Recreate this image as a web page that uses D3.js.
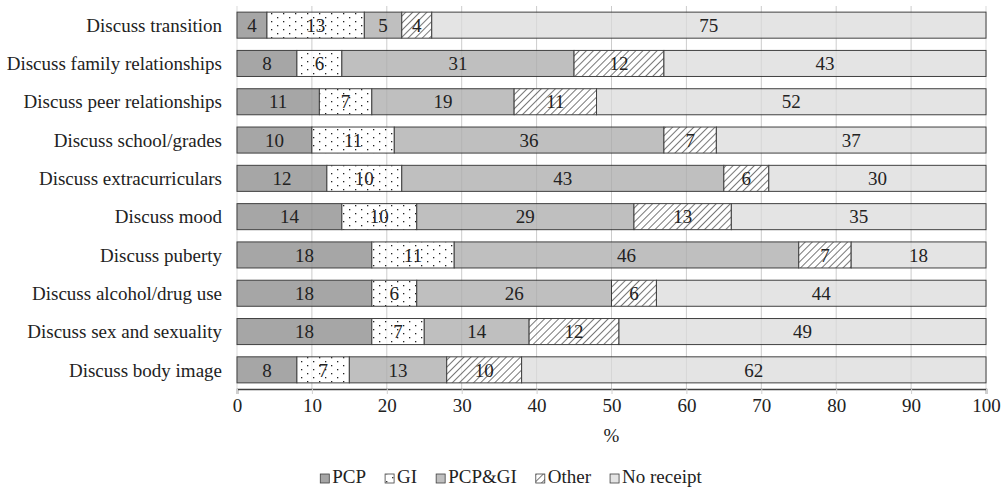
<!DOCTYPE html>
<html><head><meta charset="utf-8">
<script src="https://d3js.org/d3.v7.min.js"></script>
<style>body{margin:0;background:#fff;} svg{display:block;}</style>
</head><body>
<script>
const categories = ["Discuss transition","Discuss family relationships","Discuss peer relationships","Discuss school/grades","Discuss extracurriculars","Discuss mood","Discuss puberty","Discuss alcohol/drug use","Discuss sex and sexuality","Discuss body image"];
const seriesNames = ["PCP","GI","PCP&GI","Other","No receipt"];
const PCP = [4,8,11,10,12,14,18,18,18,8];
const GI = [13,6,7,11,10,10,11,6,7,7];
const PCPGI = [5,31,19,36,43,29,46,26,14,13];
const Other = [4,12,11,7,6,13,7,6,12,10];
const NoReceipt = [75,43,52,37,30,35,18,44,49,62];
const xTicks = [0,10,20,30,40,50,60,70,80,90,100];

const W=1001,H=487;
const m={left:237,right:15,top:6,bottom:98};
const FS=19;
const svg=d3.select("body").append("svg").attr("width",W).attr("height",H);
const defs=svg.append("defs");
// dots pattern
const pd=defs.append("pattern").attr("id","dots").attr("patternUnits","userSpaceOnUse").attr("width",12).attr("height",8);
pd.append("rect").attr("width",12).attr("height",8).attr("fill","#fff");
pd.append("rect").attr("x",1).attr("y",1).attr("width",1.3).attr("height",1.3).attr("fill","#222");
pd.append("rect").attr("x",7).attr("y",5).attr("width",1.3).attr("height",1.3).attr("fill","#222");
// hatch pattern
const ph=defs.append("pattern").attr("id","hatch").attr("patternUnits","userSpaceOnUse").attr("width",5).attr("height",5).attr("patternTransform","rotate(45)");
ph.append("rect").attr("width",5).attr("height",5).attr("fill","#fff");
ph.append("line").attr("x1",0).attr("y1",0).attr("x2",0).attr("y2",5).attr("stroke","#555").attr("stroke-width",1.6);
const fills=["#a6a6a6","url(#dots)","#bfbfbf","url(#hatch)","#e4e4e4"];

const x=d3.scaleLinear().domain([0,100]).range([m.left,W-m.right]);
const y=d3.scaleBand().domain(categories).range([m.top,H-m.bottom]).paddingInner(0.32).paddingOuter(0.16);

const font="'Liberation Serif','Times New Roman',serif";

// gridlines behind
const grid=svg.append("g");
grid.selectAll("line").data(xTicks).join("line")
 .attr("x1",d=>x(d)).attr("x2",d=>x(d)).attr("y1",m.top).attr("y2",H-m.bottom)
 .attr("stroke","#d9d9d9").attr("stroke-width",1);

const values=[PCP,GI,PCPGI,Other,NoReceipt];
const rows=categories.map((c,i)=>{let s=0;return values.map((v,k)=>{const a=s;s+=v[i];return {c,k,v:v[i],x0:a,x1:Math.min(s,100)};});});
svg.append("clipPath").attr("id","plotclip").append("rect").attr("x",x(0)-1).attr("y",0).attr("width",x(100)-x(0)+2).attr("height",H);
const bars=svg.append("g").attr("clip-path","url(#plotclip)");
rows.forEach(r=>{
 const g=bars.append("g");
 g.selectAll("rect").data(r).join("rect")
  .attr("x",d=>x(d.x0)).attr("y",d=>y(d.c)).attr("width",d=>Math.max(0,x(d.x1)-x(d.x0))).attr("height",y.bandwidth())
  .attr("fill",d=>fills[d.k]).attr("stroke","#404040").attr("stroke-width",1);
 g.selectAll("text").data(r).join("text")
  .attr("x",d=>x((d.x0+d.x1)/2)).attr("y",d=>y(d.c)+y.bandwidth()/2).attr("dy","0.35em")
  .attr("text-anchor","middle").attr("font-family",font).attr("font-size",FS).attr("fill","#222").text(d=>d.v);
});
// faint grid overlay
svg.append("g").selectAll("line").data(xTicks.slice(1,-1)).join("line")
 .attr("x1",d=>x(d)).attr("x2",d=>x(d)).attr("y1",m.top).attr("y2",H-m.bottom)
 .attr("stroke","#000").attr("stroke-opacity",0.06);

// x axis
const ax=svg.append("g").attr("transform",`translate(0,${H-m.bottom})`)
 .call(d3.axisBottom(x).tickValues(xTicks).tickSize(5).tickPadding(5));
ax.select(".domain").attr("stroke","#404040").attr("stroke-width",1.5);
ax.selectAll(".tick line").attr("stroke","#d0d0d0");
ax.selectAll("text").attr("font-family",font).attr("font-size",FS).attr("fill","#222");
svg.append("text").attr("x",x(50)).attr("y",442).attr("text-anchor","middle").attr("font-family",font).attr("font-size",FS).attr("fill","#222").text("%");

// y labels
svg.append("g").selectAll("text").data(categories).join("text")
 .attr("x",222).attr("y",d=>y(d)+y.bandwidth()/2).attr("dy","0.35em").attr("text-anchor","end")
 .attr("font-family",font).attr("font-size",FS).attr("fill","#222").text(d=>d);

// legend
const lg=svg.append("g");
let lx=0; const ly=483; const gap=19;
seriesNames.forEach((n,k)=>{
 const g=lg.append("g").attr("transform",`translate(${lx},0)`);
 g.append("rect").attr("x",0).attr("y",ly-9).attr("width",9).attr("height",9).attr("fill",fills[k]).attr("stroke","#404040").attr("stroke-width",0.8);
 const t=g.append("text").attr("x",12).attr("y",ly).attr("font-family",font).attr("font-size",FS).attr("fill","#222").text(n);
 lx+=12+t.node().getComputedTextLength()+gap;
});
const lw=lx-gap;
lg.attr("transform",`translate(${511-lw/2},0)`);
</script>
</body></html>
